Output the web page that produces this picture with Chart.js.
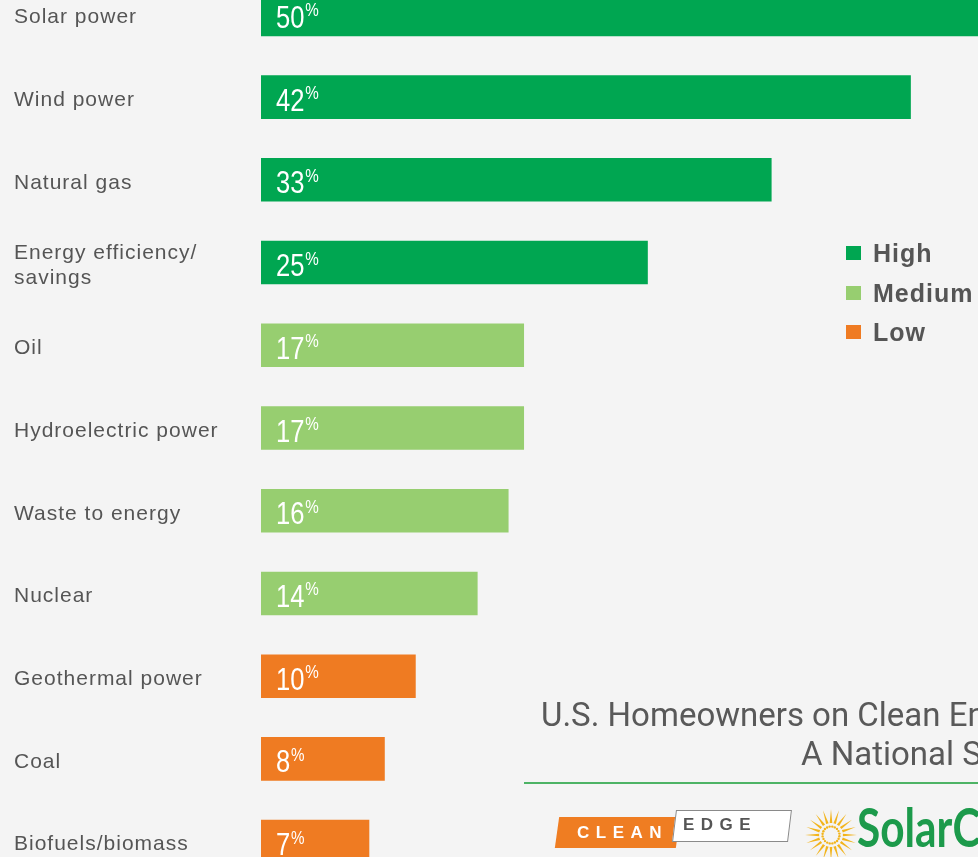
<!DOCTYPE html>
<html>
<head>
<meta charset="utf-8">
<script src="https://cdn.jsdelivr.net/npm/chart.js@4.4.1/dist/chart.umd.min.js"></script>
<style>
html,body{margin:0;padding:0;width:978px;height:857px;overflow:hidden;background:#f4f4f4;}
#wrap{position:absolute;left:0;top:-27px;width:1112px;height:910px;}
.abs{position:absolute;white-space:nowrap;}
.leg{position:absolute;left:846px;height:40px;display:flex;align-items:center;font:bold 25px "Liberation Sans",Arial,sans-serif;letter-spacing:1px;color:#555;}
.leg i{display:inline-block;width:15px;height:14px;margin-right:12px;}
.title{font:400 33px Roboto,sans-serif;color:#595959;}
</style>
</head>
<body>
<div id="wrap"><canvas id="c" width="1112" height="910"></canvas></div>
<div id="legend"></div>

<div class="abs title" style="left:541px;top:698px;line-height:33px;">U.S. Homeowners on Clean Energy:</div>
<div class="abs title" style="left:801px;top:737px;line-height:33px;">A National Survey</div>
<div class="abs" style="left:524px;top:782px;width:460px;height:2px;background:#4db365;"></div>

<!-- Clean Edge mark -->
<div class="abs" style="left:557px;top:817px;width:121px;height:31px;background:#ef7d22;transform:skewX(-8deg);"></div>
<div class="abs" style="left:674px;top:810px;width:114px;height:30px;background:#fff;border:1px solid #8a8a8a;transform:skewX(-7deg);"></div>
<div class="abs" style="left:577px;top:823px;font:bold 17px 'Liberation Sans',Arial,sans-serif;letter-spacing:6.5px;color:#fff;line-height:20px;">CLEAN</div>
<div class="abs" style="left:683px;top:815px;font:bold 17px 'Liberation Sans',Arial,sans-serif;letter-spacing:6.5px;color:#555;line-height:20px;">EDGE</div>

<!-- SolarCity mark -->
<svg id="sun" class="abs" style="left:802px;top:804px;" width="58" height="58" viewBox="0 0 58 58"></svg>
<div class="abs" style="left:857px;top:797px;font:700 53px Lato,sans-serif;color:#1c9a4b;line-height:60px;transform:scaleX(0.8);transform-origin:left top;">SolarCity</div>

<script>
// survey data, top to bottom
const categories = ['Solar power', 'Wind power', 'Natural gas', ['Energy efficiency/', 'savings'], 'Oil',
  'Hydroelectric power', 'Waste to energy', 'Nuclear', 'Geothermal power', 'Coal', 'Biofuels/biomass'];
const shares = [50, 42, 33, 25, 17, 17, 16, 14, 10, 8, 7];
const levels = ['High', 'High', 'High', 'High', 'Medium', 'Medium', 'Medium', 'Medium', 'Low', 'Low', 'Low'];
const legendItems = ['High', 'Medium', 'Low'];

const levelColor = { High: '#00a651', Medium: '#97ce70', Low: '#ef7b22' };

// legend
const legendTops = [233, 273, 312];
document.getElementById('legend').innerHTML = legendItems.map((l, i) =>
  `<div class="leg" style="top:${legendTops[i]}px"><i style="background:${levelColor[l]}"></i>${l}</div>`).join('');

// sun rays for the logo
(function(){
  const svg = document.getElementById('sun'); let s = '';
  const cx = 29, cy = 31;
  for (let k = 0; k < 20; k++) {
    const a = (k / 20) * Math.PI * 2, w = 0.11;
    const p = (r, da) => (cx + r * Math.cos(a + da)).toFixed(1) + ',' + (cy + r * Math.sin(a + da)).toFixed(1);
    s += `<polygon points="${p(12, -w)} ${p(26, 0)} ${p(12, w)}" fill="#f2b41c"/>`;
    s += `<circle cx="${(cx + 8.5 * Math.cos(a + 0.15)).toFixed(1)}" cy="${(cy + 8.5 * Math.sin(a + 0.15)).toFixed(1)}" r="1.2" fill="#f2b41c"/>`;
  }
  svg.innerHTML = s;
})();

const spacing = {
  id: 'spacing',
  beforeDraw(c){ c.ctx.letterSpacing = '1px'; },
  beforeDatasetsDraw(c){ c.ctx.letterSpacing = '0px'; }
};

const valueLabels = {
  id: 'valueLabels',
  afterDatasetsDraw(chart){
    const ctx = chart.ctx;
    chart.getDatasetMeta(0).data.forEach((bar, i) => {
      const num = String(shares[i]);
      ctx.save();
      ctx.letterSpacing = '0px';
      ctx.fillStyle = '#fff'; ctx.textAlign = 'left'; ctx.textBaseline = 'alphabetic';
      ctx.translate(bar.base + 15, bar.y + 13.5);
      ctx.scale(0.8, 1);
      ctx.font = '32px "Liberation Sans", Arial, sans-serif';
      ctx.fillText(num, 0, 0);
      const w = ctx.measureText(num).width;
      ctx.font = '19px "Liberation Sans", Arial, sans-serif';
      ctx.fillText('%', w + 1, -11.5);
      ctx.restore();
    });
  }
};

new Chart(document.getElementById('c'), {
  type: 'bar',
  data: {
    labels: categories,
    datasets: [{
      data: shares,
      backgroundColor: levels.map(l => levelColor[l]),
      borderWidth: 0,
      categoryPercentage: 1,
      barPercentage: 0.527
    }]
  },
  options: {
    indexAxis: 'y',
    responsive: false,
    animation: false,
    layout: { padding: { left: 14, top: 0, right: 0, bottom: 0 } },
    plugins: { legend: { display: false }, tooltip: { enabled: false } },
    scales: {
      x: { display: false, min: 0, max: 55 },
      y: {
        grid: { display: false },
        border: { display: false },
        afterFit(scale){ scale.width = 247; scale.paddingTop = 0; scale.paddingBottom = 0; },
        ticks: {
          crossAlign: 'far',
          labelOffset: 3,
          color: '#555',
          font: { family: '"Liberation Sans", Arial, sans-serif', size: 21, lineHeight: 1.2 }
        }
      }
    }
  },
  plugins: [spacing, valueLabels]
});
</script>
</body>
</html>
